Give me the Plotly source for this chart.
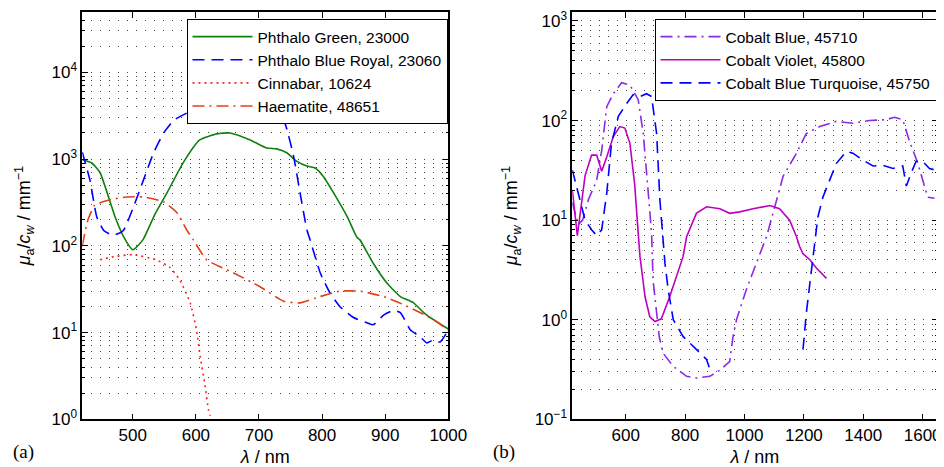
import plotly.graph_objects as go

# ---------------- data (panel a) ----------------
green_x = [420, 435, 448, 472, 486, 500, 516, 535, 554, 580, 606, 633, 654, 686, 712, 728, 744, 760, 776, 789, 802, 818, 840, 855, 860, 881, 903, 924, 945, 961, 977, 1000]
green_y = [980, 900, 700, 215, 125, 90, 117, 230, 405, 910, 1660, 1950, 2000, 1660, 1340, 1310, 1180, 940, 830, 790, 630, 410, 215, 126, 117, 63, 37, 26, 22, 17, 14, 11]

blue_x = [420, 432, 443, 454, 465, 472, 485, 501, 517, 533, 549, 565, 586, 606, 622, 649, 674, 701, 712, 728, 741, 755, 765, 776, 781, 797, 812, 828, 849, 871, 881, 898, 913, 924, 940, 955, 966, 976, 987, 1000]
blue_y = [1200, 575, 215, 150, 135, 134, 150, 280, 575, 1180, 2000, 2800, 3400, 3900, 4000, 3700, 3400, 3700, 3900, 3500, 2600, 1060, 410, 152, 117, 49, 29, 20, 15, 13, 12.3, 16, 18, 17, 10.7, 9, 7.6, 8.2, 7.8, 10.7]

cinnabar_x = [448, 470, 500, 537, 558, 574, 591, 601, 607, 614, 620, 623]
cinnabar_y = [69, 75, 79, 69, 57, 41, 22, 10.7, 5.2, 2.6, 1.28, 1.1]

haem_x = [420, 429, 440, 464, 490, 517, 549, 570, 586, 596, 617, 659, 701, 739, 765, 797, 828, 860, 897, 929, 955, 977, 1000]
haem_y = [100, 200, 295, 340, 365, 365, 320, 240, 150, 117, 69, 49, 34, 23, 22, 26, 30, 30, 26, 21, 17, 14, 10.7]

# ---------------- data (panel b) ----------------
cblue_x = [420, 440, 455, 474, 502, 519, 536, 558, 586, 614, 642, 659, 676, 687, 692, 704, 713, 726, 760, 805, 838, 883, 916, 950, 961, 973, 1006, 1040, 1074, 1096, 1130, 1175, 1208, 1253, 1309, 1365, 1421, 1477, 1505, 1533, 1555, 1584, 1600, 1617, 1640]
cblue_y = [15, 9, 10, 16, 25, 50, 138, 186, 240, 228, 162, 74, 18.6, 7.4, 2.5, 1.15, 0.67, 0.46, 0.34, 0.27, 0.26, 0.27, 0.31, 0.38, 0.67, 1.0, 2.0, 3.7, 6.8, 11.7, 27.6, 47, 74, 87, 98, 94, 100, 102, 108, 102, 63, 37, 25, 17, 16.6]

cviolet_x = [420, 437, 463, 485, 502, 519, 536, 558, 580, 597, 614, 630, 642, 648, 665, 681, 698, 720, 748, 793, 805, 838, 872, 917, 950, 984, 1029, 1085, 1118, 1152, 1175, 1186, 1197, 1220, 1242, 1276]
cviolet_y = [20, 7, 28, 45, 45, 31, 43, 69, 87, 84, 59, 23, 7.4, 4.3, 1.7, 1.07, 0.96, 1.02, 1.7, 4.3, 6.8, 11.7, 13.6, 13, 11.7, 12.1, 13, 14, 13, 10, 6.8, 5.4, 4.6, 4, 3.3, 2.6]

cturq_x = [420, 446, 463, 485, 502, 519, 536, 552, 575, 603, 625, 648, 670, 687, 704, 715, 724, 732, 743, 760, 793, 838, 872, 883, 892, 1050, 1197, 1208, 1220, 1236, 1247, 1264, 1287, 1309, 1343, 1365, 1399, 1433, 1466, 1500, 1533, 1545, 1561, 1578, 1600, 1623, 1640]
cturq_y = [32, 16, 10, 8, 7, 8, 18.6, 59, 110, 148, 182, 174, 186, 174, 74, 16, 7.4, 3.7, 2.0, 1.0, 0.68, 0.5, 0.4, 0.32, 0.33, None, 0.5, 1.15, 2.3, 5.4, 10.7, 17, 25, 37, 49, 47, 40, 35, 35.5, 33, 35, 22, 29.6, 39, 39, 33, 32]

# ticks
xa_ticks = [500, 600, 700, 800, 900, 1000]
xb_ticks = [600, 800, 1000, 1200, 1400, 1600]
ya_exps = [0, 1, 2, 3, 4]
yb_exps = [-1, 0, 1, 2, 3]

OFF = 8  # default page body margin
W, H = 944 - OFF, 467 - OFF
FONT = "Liberation Sans, Arial, sans-serif"

def px_x(p):
    return (p - OFF) / W

def px_y(p):
    return (H - (p - OFF)) / H

fig = go.Figure()

def add(x, y, name, color, dash, xa, ya, legend, smooth=True, width=1.6):
    line = dict(color=color, dash=dash, width=width)
    if smooth:
        line.update(shape="spline", smoothing=0.5)
    fig.add_trace(go.Scatter(x=x, y=y, name=name, mode="lines", line=line,
                             xaxis=xa, yaxis=ya, legend=legend, connectgaps=False))

add(green_x, green_y, "Phthalo Green, 23000", "#0f7f0f", "solid", "x", "y", "legend")
add(blue_x, blue_y, "Phthalo Blue Royal, 23060", "#0000ff", "12px,7px", "x", "y", "legend")
add(cinnabar_x, cinnabar_y, "Cinnabar, 10624", "#ff2020", "2px,4px", "x", "y", "legend")
add(haem_x, haem_y, "Haematite, 48651", "#e0401a", "12px,5px,2px,5px", "x", "y", "legend")

add(cblue_x, cblue_y, "Cobalt Blue, 45710", "#8a2be2", "12px,5px,2px,5px", "x2", "y2", "legend2", smooth=False)
add(cviolet_x, cviolet_y, "Cobalt Violet, 45800", "#c000c0", "solid", "x2", "y2", "legend2", smooth=False)
add(cturq_x, cturq_y, "Cobalt Blue Turquoise, 45750", "#0000ff", "12px,7px", "x2", "y2", "legend2", smooth=False)

def minor_vals(e0, e1):
    vals = []
    for e in range(e0, e1 + 1):
        for m in range(2, 10):
            vals.append(m * 10 ** e)
    return vals

def yaxis(exps, rng, anchor, standoff):
    return dict(type="log", range=rng, domain=[px_y(419.3), px_y(12)],
                anchor=anchor,
                tickvals=[10 ** e for e in exps],
                ticktext=["10<sup>%s</sup>" % (str(e).replace("-", "−")) for e in exps],
                ticks="inside", ticklen=6, tickcolor="black", tickwidth=1,
                showline=True, linecolor="black", linewidth=1.5, mirror="ticks",
                showgrid=True, gridcolor="#444", gridwidth=1, griddash="1px,8px",
                minor=dict(tickvals=minor_vals(exps[0] - 1, exps[-1] + 1), ticks="inside",
                           ticklen=3, tickcolor="black", showgrid=True, gridcolor="#444",
                           gridwidth=1, griddash="1px,8px"),
                tickfont=dict(family=FONT, size=17, color="black"),
                title=dict(text="<i>μ</i><sub>a</sub>/<i>c</i><sub><i>w</i></sub> / mm<sup>−1</sup>",
                           font=dict(family=FONT, size=18, color="black"), standoff=standoff),
                zeroline=False, automargin=False)

def xaxis(ticks, rng, dom, anchor):
    return dict(range=rng, domain=dom, anchor=anchor, tickvals=ticks,
                ticks="inside", ticklen=6, tickcolor="black",
                showline=True, linecolor="black", linewidth=1.5, mirror="ticks",
                showgrid=False, zeroline=False,
                tickfont=dict(family=FONT, size=17, color="black"),
                title=dict(text="<i>λ</i> / nm", font=dict(family=FONT, size=18, color="black"),
                           standoff=8),
                automargin=False)

legend_common = dict(xanchor="right", yanchor="top", bgcolor="white",
                     bordercolor="black", borderwidth=1,
                     font=dict(family=FONT, size=15.5, color="black"),
                     itemwidth=60, tracegroupgap=0)

fig.update_layout(
    width=W, height=H,
    margin=dict(l=0, r=0, t=0, b=0),
    paper_bgcolor="white", plot_bgcolor="white",
    xaxis=xaxis(xa_ticks, [420, 1000], [px_x(82.3), px_x(448.3)], "y"),
    yaxis=yaxis(ya_exps, [0, 4.695], "x", 16),
    xaxis2=xaxis(xb_ticks, [420, 1650], [px_x(572.3), px_x(937.5)], "y2"),
    yaxis2=yaxis(yb_exps, [-1, 3.09], "x2", 12),
    legend=dict(x=px_x(447.5), y=px_y(19), **legend_common),
    legend2=dict(x=px_x(936.5), y=px_y(19), **legend_common),
    showlegend=True,
    annotations=[
        dict(text="(a)", x=px_x(11), y=px_y(452), xref="paper", yref="paper",
             xanchor="left", yanchor="middle", showarrow=False,
             font=dict(family="Liberation Serif, Times New Roman, serif", size=19, color="black")),
        dict(text="(b)", x=px_x(491), y=px_y(452), xref="paper", yref="paper",
             xanchor="left", yanchor="middle", showarrow=False,
             font=dict(family="Liberation Serif, Times New Roman, serif", size=19, color="black")),
    ],
)

fig.write_html("out.html")
